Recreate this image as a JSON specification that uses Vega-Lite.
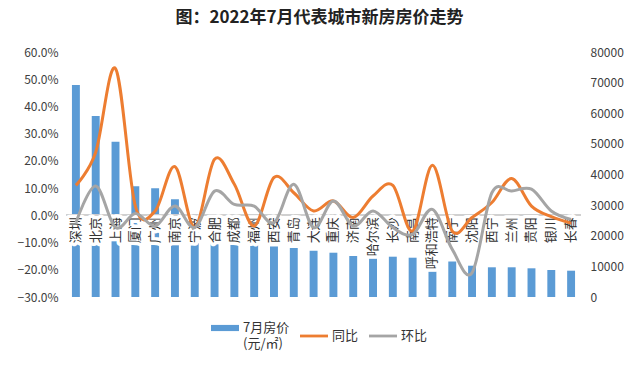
{
  "$schema": "https://vega.github.io/schema/vega-lite/v6.json",
  "width": 515,
  "height": 245,
  "autosize": {"type": "none"},
  "padding": {"left": 66, "top": 52, "right": 59, "bottom": 70},
  "background": "white",
  "config": {
    "view": {"stroke": null},
    "font": "Noto Sans CJK SC",
    "axis": {"grid": false, "domain": false, "ticks": false, "labelFont": "Noto Sans CJK SC", "labelFontSize": 12, "labelColor": "#404040", "title": null, "labelOverlap": false}
  },
  "title": {"text": "图：2022年7月代表城市新房房价走势", "fontSize": 17, "fontWeight": "bold", "color": "#222222", "font": "Noto Sans CJK SC", "anchor": "middle", "offset": 19, "dx": -4},
  "data": {"values": [
    {"city": "深圳", "price": 69200, "yoy": 0.110, "mom": -0.027},
    {"city": "北京", "price": 59100, "yoy": 0.232, "mom": 0.108},
    {"city": "上海", "price": 50700, "yoy": 0.539, "mom": -0.045},
    {"city": "厦门", "price": 36200, "yoy": 0.034, "mom": 0.007},
    {"city": "广州", "price": 35500, "yoy": 0.016, "mom": -0.039},
    {"city": "南京", "price": 31900, "yoy": 0.179, "mom": 0.034},
    {"city": "宁波", "price": 27000, "yoy": -0.044, "mom": -0.045},
    {"city": "合肥", "price": 24500, "yoy": 0.206, "mom": 0.089},
    {"city": "成都", "price": 22000, "yoy": 0.114, "mom": 0.040},
    {"city": "福州", "price": 20000, "yoy": -0.039, "mom": 0.034},
    {"city": "西安", "price": 16500, "yoy": 0.139, "mom": -0.027},
    {"city": "青岛", "price": 16000, "yoy": 0.083, "mom": 0.114},
    {"city": "大连", "price": 15100, "yoy": 0.016, "mom": -0.045},
    {"city": "重庆", "price": 14460, "yoy": 0.053, "mom": 0.053},
    {"city": "济南", "price": 13390, "yoy": -0.008, "mom": -0.039},
    {"city": "哈尔滨", "price": 13250, "yoy": 0.071, "mom": 0.016},
    {"city": "长沙", "price": 13160, "yoy": 0.110, "mom": -0.045},
    {"city": "南昌", "price": 12830, "yoy": -0.058, "mom": -0.070},
    {"city": "呼和浩特", "price": 12400, "yoy": 0.184, "mom": 0.022},
    {"city": "南宁", "price": 11590, "yoy": -0.058, "mom": -0.125},
    {"city": "沈阳", "price": 10220, "yoy": -0.008, "mom": -0.211},
    {"city": "西宁", "price": 9700, "yoy": 0.047, "mom": 0.083},
    {"city": "兰州", "price": 9700, "yoy": 0.135, "mom": 0.089},
    {"city": "贵阳", "price": 9370, "yoy": 0.034, "mom": 0.096},
    {"city": "银川", "price": 8820, "yoy": -0.005, "mom": 0.016},
    {"city": "长春", "price": 8590, "yoy": -0.029, "mom": -0.015}
  ]},
  "encoding": {
    "x": {"field": "city", "type": "nominal", "sort": null, "scale": {"paddingInner": 0, "paddingOuter": 0}, "axis": null}
  },
  "layer": [
    {
      "mark": {"type": "bar", "width": {"band": 0.4}},
      "encoding": {
        "y": {"field": "price", "type": "quantitative", "scale": {"domain": [0, 80000], "nice": false, "zero": true}, "axis": {"orient": "right", "values": [0, 10000, 20000, 30000, 40000, 50000, 60000, 70000, 80000], "format": "d", "labelPadding": 9, "labelOverlap": false}},
        "color": {"datum": "7月房价|(元/㎡)", "type": "nominal", "scale": {"domain": ["7月房价|(元/㎡)", "同比", "环比"], "range": ["#5B9BD5", "#ED7D31", "#A5A5A5"]},
          "legend": {"orient": "none", "legendX": 145, "legendY": 262, "direction": "horizontal", "title": null, "labelFont": "Noto Sans CJK SC", "labelFontSize": 13, "labelColor": "#333333", "symbolType": "M-1,-0.22H1V0.22H-1Z", "symbolSize": 784, "symbolStrokeWidth": 0, "columnPadding": 10, "labelOffset": 4, "labelExpr": "split(datum.label, '|')",
            "encode": {"symbols": {"update": {"shape": {"signal": "datum.value === '7月房价|(元/㎡)' ? 'M-1,-0.22H1V0.22H-1Z' : 'M-1,-0.1H1V0.1H-1Z'"}}}, "labels": {"update": {"lineHeight": {"value": 16}}}}}
        }
      }
    },
    {
      "layer": [
        {
          "mark": {"type": "rule", "color": "#D0D0D0", "strokeWidth": 1},
          "encoding": {"y": {"datum": 0, "type": "quantitative", "scale": {"domain": [-0.3, 0.6], "nice": false, "zero": false}, "axis": {"orient": "left", "values": [-0.3, -0.2, -0.1, 0, 0.1, 0.2, 0.3, 0.4, 0.5, 0.6], "format": ".1%", "labelPadding": 8, "labelOverlap": false}}, "x": {"value": 0}, "x2": {"value": 515}}
        },
        {
          "mark": {"type": "text", "angle": 270, "align": "right", "baseline": "middle", "fontSize": 13, "dx": -2, "stroke": "white", "strokeWidth": 7, "strokeJoin": "round", "fill": "white", "font": "Noto Sans CJK SC"},
          "encoding": {"y": {"datum": 0, "type": "quantitative", "axis": {"orient": "left", "values": [-0.3, -0.2, -0.1, 0, 0.1, 0.2, 0.3, 0.4, 0.5, 0.6], "format": ".1%", "labelPadding": 8, "labelOverlap": false}}, "text": {"field": "city"}}
        },
        {
          "mark": {"type": "text", "angle": 270, "align": "right", "baseline": "middle", "fontSize": 13, "dx": -2, "color": "#333333", "font": "Noto Sans CJK SC"},
          "encoding": {"y": {"datum": 0, "type": "quantitative", "axis": {"orient": "left", "values": [-0.3, -0.2, -0.1, 0, 0.1, 0.2, 0.3, 0.4, 0.5, 0.6], "format": ".1%", "labelPadding": 8, "labelOverlap": false}}, "text": {"field": "city"}}
        },
        {
          "mark": {"type": "line", "interpolate": "cardinal", "strokeWidth": 3},
          "encoding": {
            "y": {"field": "yoy", "type": "quantitative", "axis": {"orient": "left", "values": [-0.3, -0.2, -0.1, 0, 0.1, 0.2, 0.3, 0.4, 0.5, 0.6], "format": ".1%", "labelPadding": 8, "labelOverlap": false}},
            "color": {"datum": "同比", "type": "nominal"}
          }
        },
        {
          "mark": {"type": "line", "interpolate": "cardinal", "strokeWidth": 3},
          "encoding": {
            "y": {"field": "mom", "type": "quantitative", "axis": {"orient": "left", "values": [-0.3, -0.2, -0.1, 0, 0.1, 0.2, 0.3, 0.4, 0.5, 0.6], "format": ".1%", "labelPadding": 8, "labelOverlap": false}},
            "color": {"datum": "环比", "type": "nominal"}
          }
        }
      ]
    }
  ],
  "resolve": {"scale": {"y": "independent"}}
}
